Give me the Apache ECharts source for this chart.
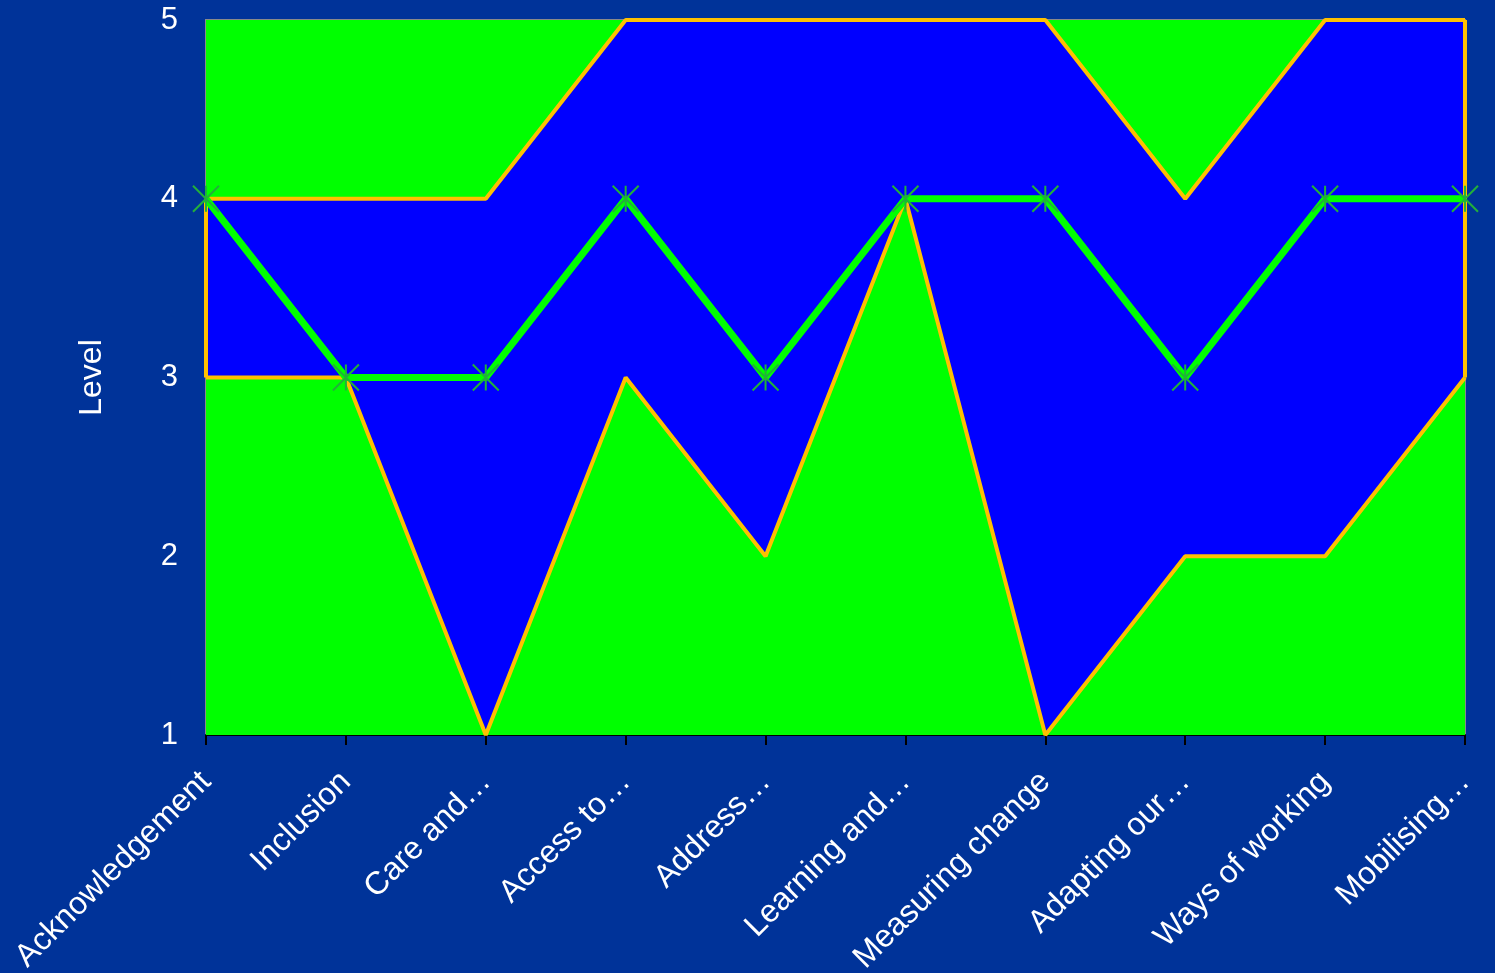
<!DOCTYPE html>
<html>
<head>
<meta charset="utf-8">
<script src="https://cdn.jsdelivr.net/npm/echarts@6/dist/echarts.min.js"></script>
<style>
html,body{margin:0;padding:0;background:#003399;}
#chart{width:1495px;height:973px;}
</style>
</head>
<body>
<div id="chart"></div>
<script>
var categories = ['Acknowledgement','Inclusion','Care and…','Access to…','Address…','Learning and…','Measuring change','Adapting our…','Ways of working','Mobilising…'];
var lowerLevel = [3, 3, 1, 3, 2, 4, 1, 2, 2, 3];
var upperLevel = [4, 4, 4, 5, 5, 5, 5, 4, 5, 5];
var currentLevel = [4, 3, 3, 4, 3, 4, 4, 3, 4, 4];
var yTicks = [1, 2, 3, 4, 5];
var yMin = yTicks[0], yMax = yTicks[yTicks.length - 1];

var bandWidth = upperLevel.map(function (u, i) { return u - lowerLevel[i]; });
var topBand = upperLevel.map(function (u) { return yMax - u; });

var FONT = '"Liberation Sans", Arial, sans-serif';
var chart = echarts.init(document.getElementById('chart'));
var orange = '#FFC000';
var starPath = 'path://M0,0L10,10M10,0L0,10M5,0L5,10';

chart.setOption({
  backgroundColor: '#003399',
  animation: false,
  grid: {left: 206, right: 30, top: 20, bottom: 238, containLabel: false, outerBoundsMode: 'none',
    show: true, borderColor: '#8a8a8a', borderWidth: 2, backgroundColor: 'transparent'},
  xAxis: {
    type: 'category', data: categories, boundaryGap: false,
    axisLine: {show: true, lineStyle: {color: '#000', width: 2}},
    axisTick: {show: true, alignWithLabel: true, length: 10, lineStyle: {color: '#000', width: 2}},
    axisLabel: {color: '#fff', fontSize: 32, fontFamily: FONT, rotate: 45, margin: 42, interval: 0},
    splitLine: {show: false}
  },
  yAxis: {
    type: 'value', min: yMin, max: yMax, interval: 1,
    name: 'Level', nameLocation: 'middle', nameGap: 98, nameRotate: 90,
    nameTextStyle: {color: '#fff', fontSize: 32, fontFamily: FONT},
    axisLine: {show: false}, axisTick: {show: false}, splitLine: {show: false},
    axisLabel: {color: '#fff', fontSize: 31, fontFamily: FONT, margin: 28}
  },
  series: [
    {type: 'line', stack: 'band', data: lowerLevel, symbol: 'none', lineStyle: {width: 0}, areaStyle: {color: '#00FF00', opacity: 1}, z: 1},
    {type: 'line', stack: 'band', data: bandWidth, symbol: 'none', lineStyle: {width: 0}, areaStyle: {color: '#0000FF', opacity: 1}, z: 1},
    {type: 'line', stack: 'band', data: topBand, symbol: 'none', lineStyle: {width: 0}, areaStyle: {color: '#00FF00', opacity: 1}, z: 1},
    {type: 'line', data: lowerLevel, symbol: 'none', lineStyle: {color: orange, width: 4}, z: 3,
      markLine: {symbol: 'none', silent: true, label: {show: false}, lineStyle: {color: orange, width: 4, type: 'solid'},
        data: [
          [{coord: [categories[0], lowerLevel[0]]}, {coord: [categories[0], upperLevel[0]]}],
          [{coord: [categories[categories.length - 1], lowerLevel[lowerLevel.length - 1]]}, {coord: [categories[categories.length - 1], upperLevel[upperLevel.length - 1]]}]
        ]}},
    {type: 'line', data: upperLevel, symbol: 'none', lineStyle: {color: orange, width: 4}, z: 3},
    {type: 'line', data: currentLevel, symbol: starPath, symbolSize: 26, showSymbol: true,
      lineStyle: {color: '#00FF00', width: 7},
      itemStyle: {color: 'rgba(0,0,0,0)', borderColor: '#22b03a', borderWidth: 2},
      z: 5}
  ]
});
</script>
</body>
</html>
